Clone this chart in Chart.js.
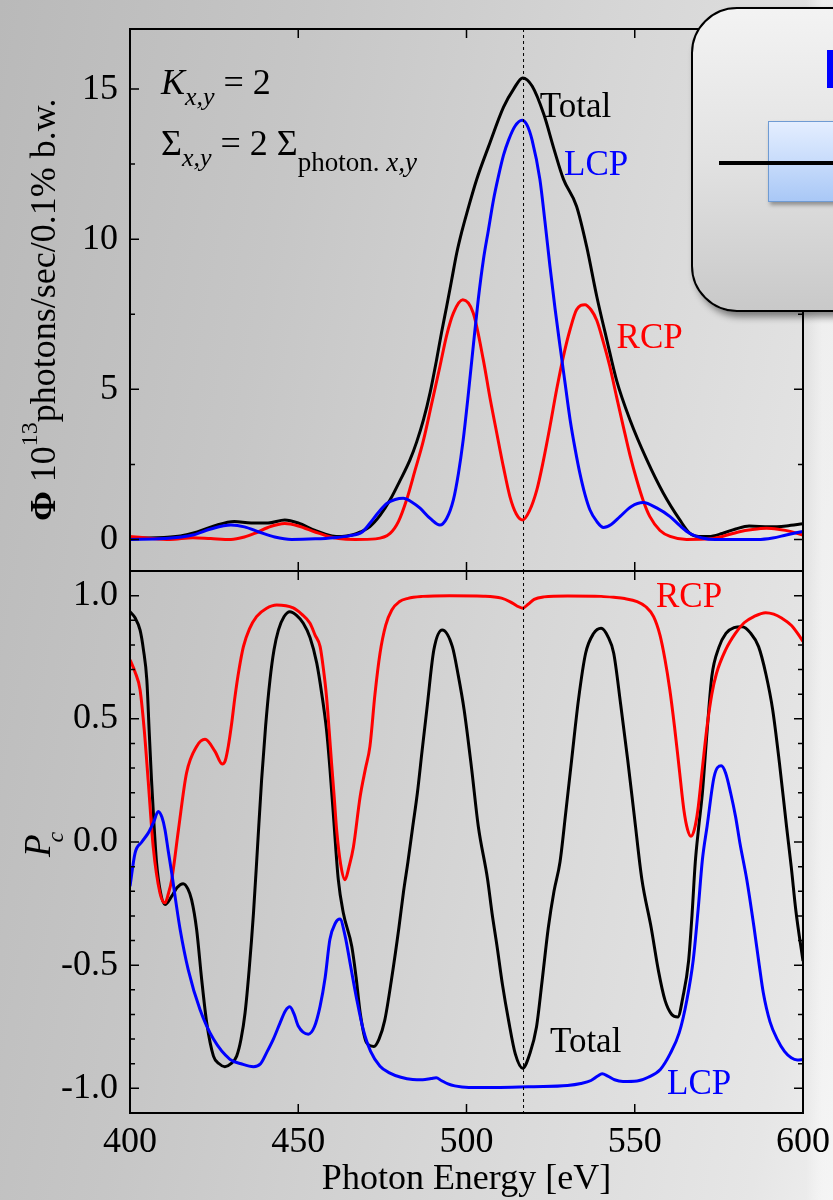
<!DOCTYPE html>
<html>
<head>
<meta charset="utf-8">
<script src="https://cdn.jsdelivr.net/npm/chart.js@4.4.1/dist/chart.umd.min.js"></script>
<style>
  html, body { margin: 0; padding: 0; }
  body {
    width: 833px; height: 1200px; position: relative; overflow: hidden;
    background: linear-gradient(100deg, #b9b9b9 0%, #c6c6c6 30%, #d6d6d6 60%, #e6e6e6 92%, #eeeeee 100%);
  }
  canvas { position: absolute; left: 0; display: block; }
  #fluxChart { top: 0; }
  #polChart { top: 560px; }
  .side { position: absolute; left: 806px; top: 0; width: 27px; height: 1200px;
          background: linear-gradient(90deg, rgba(255,255,255,0) 0%, rgba(250,250,250,0.55) 60%); }
  .panel {
    position: absolute; left: 691px; top: 7px; width: 220px; height: 301px;
    border: 2px solid #000; border-radius: 46px;
    background: linear-gradient(180deg, #f3f3f3 0%, #e2e2e2 50%, #c9c9c9 100%);
    box-shadow: 4px 5px 7px rgba(0,0,0,0.45);
  }
  .panel .mark { position: absolute; left: 134px; top: 41px; width: 30px; height: 38px; background: #0000ff; }
  .panel .box {
    position: absolute; left: 75px; top: 112px; width: 120px; height: 79px;
    border: 1.5px solid #6f9bd3;
    background: linear-gradient(180deg, #e4eeff 0%, #c8dcfb 50%, #a9c8f6 100%);
    box-shadow: 2px 3px 4px rgba(0,0,0,0.35);
  }
  .panel .rod { position: absolute; left: 26px; top: 152px; width: 180px; height: 3.5px; background: #000; }
</style>
</head>
<body>
<div class="side"></div>
<canvas id="fluxChart" width="833" height="571"></canvas>
<canvas id="polChart" width="833" height="640"></canvas>
<div class="panel"><div class="mark"></div><div class="box"></div><div class="rod"></div></div>
<script>
const SERIF = '"Liberation Serif", "Times New Roman", serif';

const energyTicks = [400, 450, 500, 550, 600];
const fluxTicks = [0, 5, 10, 15];
const polTicks = [-1.0, -0.5, 0.0, 0.5, 1.0];
const resonanceEnergy = 516.8;

// photon flux [10^13 photons/sec/0.1% b.w.]
const fluxTotalE = [400, 408, 415, 420, 425, 431, 436, 441, 446, 450, 455, 460, 463, 466, 468.5, 471.3, 474.3, 477.3, 480.2, 483.2, 485.2, 487.2, 489.2, 491.1, 492.6, 494.1, 495.6, 497.1, 498.6, 500.1, 503, 506.6, 511, 514, 516.7, 519.5, 523, 526, 528.8, 532.7, 535.7, 538.7, 541.7, 544.6, 548.6, 553.6, 558.5, 563.4, 566.4, 569, 572, 576, 580, 584, 590, 595, 600];
const fluxTotal  = [0.05, 0.06, 0.12, 0.25, 0.45, 0.6, 0.55, 0.55, 0.65, 0.55, 0.3, 0.12, 0.1, 0.15, 0.25, 0.43, 0.8, 1.32, 1.95, 2.65, 3.25, 3.98, 4.9, 5.98, 6.9, 7.76, 8.65, 9.54, 10.25, 10.87, 11.98, 13.1, 14.4, 15.0, 15.37, 15.1, 14.15, 13.0, 12.0, 11.1, 9.76, 8.1, 6.65, 5.3, 3.98, 2.65, 1.54, 0.65, 0.2, 0.1, 0.1, 0.2, 0.35, 0.45, 0.42, 0.45, 0.52];

const fluxLcpE = [400, 410, 418.7, 424, 430, 434, 438.3, 443, 448, 455, 460.6, 465, 469, 471.3, 473.8, 476.3, 478.8, 481.2, 483.7, 486.2, 489.2, 492.1, 494.1, 496.1, 497.6, 499, 500.5, 502, 503.5, 505, 506.5, 508, 509.5, 511, 512.5, 514.4, 516.5, 518, 519.5, 521.8, 523.3, 524.8, 526.3, 527.8, 529.3, 530.8, 532.3, 533.7, 535.2, 536.7, 538.7, 540.7, 543, 545.6, 549, 552.5, 556.5, 560.5, 563.5, 566.4, 570, 573.8, 586.5, 591, 595, 600];
const fluxLcp  = [0, 0.03, 0.15, 0.35, 0.48, 0.42, 0.25, 0.08, 0, 0.02, 0.06, 0.12, 0.25, 0.54, 0.9, 1.2, 1.33, 1.37, 1.25, 1.04, 0.7, 0.48, 0.7, 1.32, 2.2, 3.3, 4.8, 6.43, 8.0, 9.3, 10.3, 11.3, 12.1, 12.8, 13.3, 13.76, 13.96, 13.8, 13.3, 12.0, 10.6, 9.1, 7.7, 6.43, 5.2, 3.98, 3.0, 2.2, 1.5, 0.98, 0.6, 0.4, 0.5, 0.76, 1.1, 1.23, 1.05, 0.76, 0.45, 0.2, 0.05, 0, 0, 0.05, 0.15, 0.27];

const fluxRcpE = [400, 405, 411.8, 418.7, 424, 430, 434, 437, 441, 446, 450, 455, 459, 462, 467, 473, 477.3, 479.8, 482.2, 484.7, 487.2, 489.7, 492.1, 494.1, 496.1, 498.9, 502, 505, 507, 509, 511, 512.9, 514.8, 516.7, 518.7, 520.9, 522.8, 524.8, 526.8, 528.8, 530.8, 532.7, 535.2, 537, 538.7, 540.6, 542.6, 544.6, 546.6, 548.6, 550.6, 552.5, 554.5, 557.5, 560.5, 565.4, 572.4, 576, 580.8, 585, 589.2, 593, 596.2, 600];
const fluxRcp  = [0.1, 0.05, 0, 0.06, 0.03, 0, 0.08, 0.2, 0.4, 0.53, 0.45, 0.25, 0.1, 0.03, 0, 0.02, 0.2, 0.6, 1.32, 2.3, 3.3, 4.55, 5.76, 6.8, 7.54, 7.98, 7.54, 5.98, 4.7, 3.54, 2.4, 1.43, 0.85, 0.65, 0.95, 1.65, 2.6, 3.76, 5.0, 6.1, 7.0, 7.65, 7.82, 7.65, 7.3, 6.6, 5.76, 4.75, 3.76, 2.8, 1.98, 1.3, 0.76, 0.3, 0.1, 0, 0.02, 0.1, 0.25, 0.33, 0.37, 0.33, 0.27, 0.15];

// circular polarization degree P_c
const polTotalE = [400, 401.5, 403, 404, 405, 405.7, 406.4, 407.1, 407.9, 409, 410.4, 412.4, 414, 415.8, 417.2, 418.3, 419.8, 421.3, 422.8, 424.8, 426.5, 428.2, 430, 431.7, 433, 434.2, 435.4, 436.7, 437.9, 439.1, 440.3, 441.6, 442.8, 444.1, 445.8, 447.5, 449.5, 451.5, 453.5, 455.5, 457, 458.4, 459.4, 460.4, 461.9, 463.4, 465.9, 467.2, 468.4, 470.3, 472.5, 474, 475.7, 477.8, 479.9, 481.3, 482.6, 484, 485.4, 486.8, 488.2, 490.3, 492.8, 495.8, 497.5, 499.3, 501.5, 503.5, 506.25, 507.6, 509, 510.7, 512.5, 514.5, 516.7, 518.8, 520.8, 522.5, 524.3, 526, 527.8, 529.5, 531.25, 533.3, 535.4, 537.7, 540, 542, 543.75, 545.8, 547.9, 550, 552.1, 554.9, 557, 559, 561, 562.8, 564.3, 566, 567, 568, 569, 570.1, 571.5, 572.9, 575, 577.1, 579.5, 581.9, 584.3, 586.8, 589, 591, 593, 595.1, 596.5, 597.9, 600];
const polTotal  = [0.935, 0.91, 0.86, 0.78, 0.658, 0.45, 0.25, 0.08, -0.085, -0.2, -0.254, -0.22, -0.185, -0.169, -0.19, -0.234, -0.355, -0.558, -0.734, -0.869, -0.9, -0.912, -0.9, -0.869, -0.8, -0.693, -0.52, -0.288, -0.02, 0.25, 0.47, 0.658, 0.78, 0.86, 0.915, 0.935, 0.92, 0.888, 0.83, 0.726, 0.6, 0.455, 0.3, 0.118, -0.153, -0.288, -0.423, -0.55, -0.693, -0.815, -0.83, -0.8, -0.724, -0.55, -0.349, -0.2, -0.08, 0.06, 0.199, 0.37, 0.536, 0.78, 0.861, 0.793, 0.68, 0.536, 0.3, 0.064, -0.15, -0.29, -0.416, -0.58, -0.724, -0.86, -0.918, -0.86, -0.751, -0.56, -0.349, -0.2, -0.08, 0.12, 0.334, 0.58, 0.766, 0.845, 0.868, 0.835, 0.766, 0.56, 0.334, 0.09, -0.15, -0.349, -0.52, -0.643, -0.7, -0.71, -0.63, -0.483, -0.3, -0.08, 0.06, 0.199, 0.45, 0.672, 0.79, 0.847, 0.87, 0.874, 0.85, 0.793, 0.68, 0.536, 0.32, 0.064, -0.1, -0.281, -0.483];

const polRcpE = [400, 401.5, 403, 404.2, 405.4, 406.9, 408.9, 410.4, 411.4, 412.4, 414.4, 416.8, 419.8, 422.3, 425.3, 427.4, 428.3, 429.2, 430.2, 431.2, 432.4, 433.7, 435.5, 437.6, 440.5, 443.6, 448.5, 451, 453.5, 455, 456.5, 457.5, 458.4, 459.2, 459.9, 460.7, 461.4, 462.6, 463.9, 465.1, 466.4, 468.4, 470, 471.3, 472.8, 474.3, 476, 477.8, 480, 482.6, 487, 495, 505, 510.4, 513, 515, 516.7, 518.3, 520.1, 523, 530, 540, 543.75, 547, 550.7, 553.3, 555.6, 557.5, 559, 560.4, 561.8, 563.2, 564.6, 565.7, 566.7, 567.7, 568.75, 570.1, 571.5, 572.9, 574.3, 577, 579.9, 582.5, 585.4, 588.9, 591.3, 593.75, 596.5, 598.5, 600];
const polRcp  = [0.739, 0.69, 0.617, 0.46, 0.25, -0.02, -0.207, -0.247, -0.21, -0.153, 0.05, 0.28, 0.388, 0.417, 0.367, 0.317, 0.33, 0.388, 0.48, 0.59, 0.7, 0.793, 0.865, 0.915, 0.948, 0.962, 0.95, 0.925, 0.888, 0.84, 0.793, 0.7, 0.59, 0.45, 0.32, 0.18, 0.05, -0.09, -0.153, -0.1, -0.02, 0.185, 0.3, 0.388, 0.6, 0.766, 0.88, 0.942, 0.975, 0.989, 0.997, 1.0, 0.998, 0.99, 0.975, 0.958, 0.949, 0.965, 0.985, 0.995, 0.999, 0.997, 0.993, 0.988, 0.976, 0.955, 0.915, 0.84, 0.74, 0.62, 0.47, 0.3, 0.13, 0.05, 0.023, 0.05, 0.13, 0.3, 0.47, 0.6, 0.685, 0.78, 0.847, 0.89, 0.915, 0.931, 0.925, 0.908, 0.88, 0.845, 0.814];

const polLcpE = [400, 401.5, 403.5, 405.4, 407, 408.4, 409.5, 410.4, 411.4, 412.4, 413.6, 414.9, 417.3, 420.8, 424.8, 429.7, 433, 436.7, 438.8, 440.6, 442.6, 444.6, 446.2, 447.5, 448.8, 450, 453, 454.8, 456.5, 458, 459.4, 461, 462.4, 463.9, 465.4, 467.4, 469.3, 471.5, 474.3, 477.1, 480.5, 484, 487, 489.5, 491, 492.5, 494.5, 496.5, 500.7, 510, 520, 530, 534, 537, 539, 540.3, 542, 544, 546.5, 550.7, 554, 557.6, 560.5, 563.2, 565.5, 567.4, 568.8, 570.1, 571.5, 573.6, 575.7, 577, 578.5, 580, 581.25, 583.3, 585.4, 587, 588.2, 590.2, 592.4, 594.5, 596.5, 598.3, 600];
const polLcp  = [-0.18, -0.045, 0.0, 0.036, 0.08, 0.124, 0.1, 0.05, -0.04, -0.126, -0.24, -0.355, -0.518, -0.68, -0.8, -0.882, -0.9, -0.912, -0.9, -0.855, -0.8, -0.734, -0.685, -0.669, -0.7, -0.747, -0.78, -0.75, -0.666, -0.55, -0.396, -0.33, -0.313, -0.38, -0.491, -0.64, -0.761, -0.85, -0.91, -0.937, -0.955, -0.964, -0.965, -0.96, -0.957, -0.968, -0.982, -0.99, -0.996, -0.996, -0.993, -0.988, -0.98, -0.968, -0.95, -0.941, -0.95, -0.965, -0.972, -0.97, -0.955, -0.923, -0.86, -0.775, -0.64, -0.477, -0.28, -0.072, 0.064, 0.266, 0.309, 0.28, 0.199, 0.1, -0.004, -0.153, -0.342, -0.5, -0.612, -0.73, -0.802, -0.85, -0.876, -0.885, -0.883];

const pts = (es, vs) => es.map((e, i) => ({ x: e, y: vs[i] }));

// text runs: consecutive pieces with their own font and baseline shift
function drawRuns(ctx, x, y, runs, color) {
  ctx.fillStyle = color || '#000';
  ctx.textBaseline = 'alphabetic';
  ctx.textAlign = 'left';
  let cx = x;
  for (const r of runs) {
    ctx.font = r.font;
    if (r.dx) cx += r.dx;
    ctx.fillText(r.text, cx, y + (r.dy || 0));
    cx += ctx.measureText(r.text).width;
  }
}

const panelDecor = {
  id: 'panelDecor',
  afterDatasetsDraw(chart, args, opts) {
    const { ctx, chartArea: a, scales: { x, y } } = chart;
    ctx.save();
    // resonance marker
    const xm = x.getPixelForValue(resonanceEnergy);
    ctx.strokeStyle = '#000';
    ctx.lineWidth = 1;
    ctx.setLineDash([3, 3]);
    ctx.beginPath();
    ctx.moveTo(xm + 0.5, a.top);
    ctx.lineTo(xm + 0.5, a.bottom);
    ctx.stroke();
    ctx.setLineDash([]);

    // inward ticks on all four sides
    ctx.lineWidth = 1.5;
    ctx.beginPath();
    for (const e of energyTicks.slice(1, -1)) {
      const px = x.getPixelForValue(e);
      ctx.moveTo(px, a.top); ctx.lineTo(px, a.top + 9);
      ctx.moveTo(px, a.bottom); ctx.lineTo(px, a.bottom - 9);
    }
    for (let v = opts.minorFrom; v <= y.max + 1e-9; v += opts.minorStep) {
      const py = y.getPixelForValue(v);
      if (py < a.top + 2 || py > a.bottom - 2) continue;
      const major = opts.ticks.some(t => Math.abs(t - v) < 1e-6);
      const len = major ? 9 : 5;
      ctx.moveTo(a.left, py); ctx.lineTo(a.left + len, py);
      ctx.moveTo(a.right, py); ctx.lineTo(a.right - len, py);
    }
    ctx.stroke();

    ctx.lineWidth = 2;
    ctx.strokeRect(a.left, a.top, a.right - a.left, a.bottom - a.top);
    ctx.restore();
  },
  afterDraw(chart, args, opts) {
    const { ctx, scales: { x, y } } = chart;
    ctx.save();
    for (const lb of opts.labels) {
      drawRuns(ctx, x.getPixelForValue(lb.e), y.getPixelForValue(lb.v), lb.runs, lb.color);
    }
    if (opts.yTitle) {
      ctx.translate(opts.yTitle.x, opts.yTitle.y);
      ctx.rotate(-Math.PI / 2);
      drawRuns(ctx, 0, 0, opts.yTitle.runs);
    }
    ctx.restore();
  }
};

function panelOptions(yMin, yMax, yTicks, yFormat, showX, padTop) {
  return {
    responsive: false,
    animation: false,
    layout: { padding: { left: 0, right: 30, top: padTop, bottom: 0 } },
    plugins: { legend: { display: false }, tooltip: { enabled: false } },
    elements: { point: { radius: 0 }, line: { borderWidth: 3, cubicInterpolationMode: 'monotone' } },
    scales: {
      x: {
        type: 'linear', min: 400, max: 600, display: showX,
        afterBuildTicks: s => { s.ticks = energyTicks.map(v => ({ value: v })); },
        afterFit: s => { s.height = showX ? 87 : 0; s.paddingLeft = 0; s.paddingRight = 0; },
        grid: { display: false, drawTicks: false },
        border: { display: false },
        ticks: { color: '#000', padding: 8, font: { family: SERIF, size: 36 } },
        title: {
          display: true, text: 'Photon Energy [eV]', color: '#000',
          font: { family: SERIF, size: 36, lineHeight: 1 }, padding: { top: 0, bottom: 2 }
        }
      },
      y: {
        type: 'linear', min: yMin, max: yMax,
        afterBuildTicks: s => { s.ticks = yTicks.map(v => ({ value: v })); },
        afterFit: s => { s.width = 130; s.paddingTop = 0; s.paddingBottom = 0; },
        grid: { display: false, drawTicks: false },
        border: { display: false },
        ticks: { color: '#000', padding: 12, font: { family: SERIF, size: 36 }, callback: yFormat }
      }
    }
  };
}

const BLUE = '#0000ff', RED = '#ff0000', BLACK = '#000000';
const serif = (size, style) => (style ? style + ' ' : '') + size + 'px ' + SERIF;

const fluxOptions = panelOptions(-1.05, 17, fluxTicks, v => String(v), false, 29);
fluxOptions.plugins.panelDecor = {
  ticks: fluxTicks, minorFrom: 0, minorStep: 2.5,
  labels: [
    { e: 409.2, v: 14.85, runs: [{ text: 'K', font: serif(36, 'italic') }, { text: 'x,y', font: serif(26, 'italic'), dy: 11 }, { text: ' = 2', font: serif(36) }] },
    { e: 409.2, v: 12.82, runs: [{ text: 'Σ', font: serif(36) }, { text: 'x,y', font: serif(26, 'italic'), dy: 11 }, { text: ' = 2 Σ', font: serif(36) }, { text: 'photon.', font: serif(27), dy: 16 }, { text: ' x,y', font: serif(27, 'italic'), dy: 16 }] },
    { e: 521.8, v: 14.08, color: BLACK, runs: [{ text: 'Total', font: serif(35) }] },
    { e: 529.0, v: 12.15, color: BLUE, runs: [{ text: 'LCP', font: serif(35) }] },
    { e: 544.6, v: 6.38, color: RED, runs: [{ text: 'RCP', font: serif(35) }] }
  ],
  yTitle: { x: 55, y: 521, runs: [{ text: 'Φ', font: serif(36, 'bold') }, { text: ' 10', font: serif(36) }, { text: '13', font: serif(24), dy: -18 }, { text: 'photons/sec/0.1% b.w.', font: serif(36) }] }
};

new Chart(document.getElementById('fluxChart'), {
  type: 'line',
  data: {
    datasets: [
      { label: 'LCP', data: pts(fluxLcpE, fluxLcp), borderColor: BLUE },
      { label: 'RCP', data: pts(fluxRcpE, fluxRcp), borderColor: RED },
      { label: 'Total', data: pts(fluxTotalE, fluxTotal), borderColor: BLACK }
    ]
  },
  options: fluxOptions,
  plugins: [panelDecor]
});

const polOptions = panelOptions(-1.1, 1.1, polTicks, v => v.toFixed(1), true, 11);
polOptions.plugins.panelDecor = {
  ticks: polTicks, minorFrom: -1.1, minorStep: 0.1,
  labels: [
    { e: 556.3, v: 0.954, color: RED, runs: [{ text: 'RCP', font: serif(35) }] },
    { e: 524.8, v: -0.853, color: BLACK, runs: [{ text: 'Total', font: serif(35) }] },
    { e: 559.6, v: -1.024, color: BLUE, runs: [{ text: 'LCP', font: serif(35) }] }
  ],
  yTitle: { x: 50, y: 297, runs: [{ text: 'P', font: serif(37, 'italic') }, { text: 'c', font: serif(24, 'italic'), dx: -8, dy: 13 }] }
};

new Chart(document.getElementById('polChart'), {
  type: 'line',
  data: {
    datasets: [
      { label: 'LCP', data: pts(polLcpE, polLcp), borderColor: BLUE },
      { label: 'RCP', data: pts(polRcpE, polRcp), borderColor: RED },
      { label: 'Total', data: pts(polTotalE, polTotal), borderColor: BLACK }
    ]
  },
  options: polOptions,
  plugins: [panelDecor]
});
</script>
</body>
</html>
